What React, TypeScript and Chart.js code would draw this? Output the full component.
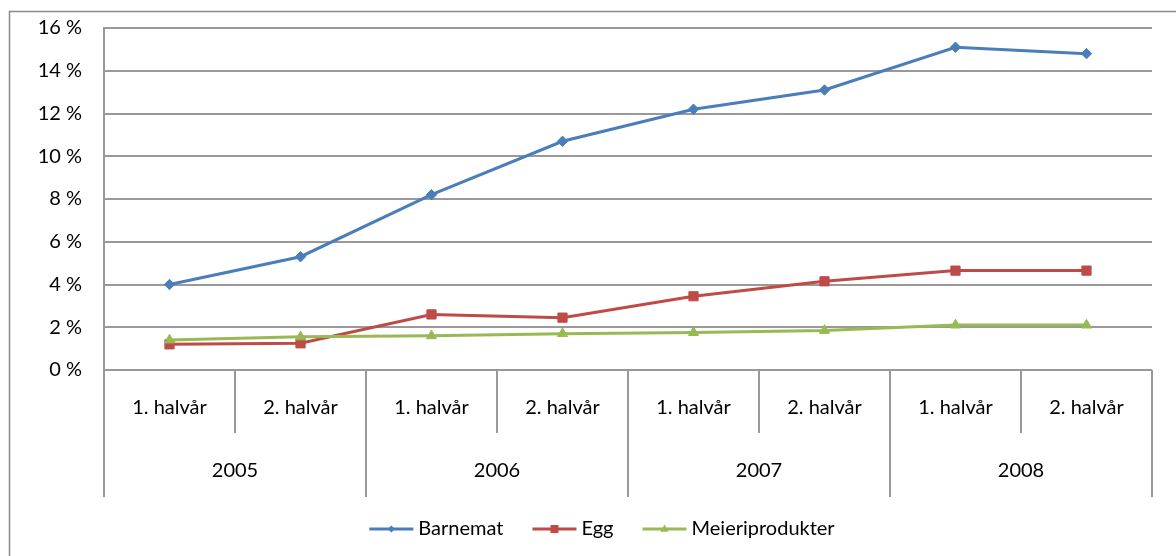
import { useEffect, useRef } from 'react';
import { Chart, registerables } from 'chart.js';

Chart.register(...registerables);

const periods = ['1. halvår', '2. halvår', '1. halvår', '2. halvår', '1. halvår', '2. halvår', '1. halvår', '2. halvår'];
const years = ['2005', '2006', '2007', '2008'];
const barnemat = [4.0, 5.3, 8.2, 10.7, 12.2, 13.1, 15.1, 14.8];
const egg = [1.2, 1.25, 2.6, 2.45, 3.45, 4.15, 4.65, 4.65];
const meieri = [1.4, 1.55, 1.6, 1.7, 1.75, 1.85, 2.1, 2.1];
const seriesNames = ['Barnemat', 'Egg', 'Meieriprodukter'];
const seriesColors = ['#4A7EBB', '#BE4B48', '#98B954'];
const seriesMarkers = ['rectRot', 'rect', 'triangle'];
const yMin = 0;
const yMax = 16;
const yStep = 2;

const FONT = 'Lato, "Open Sans", sans-serif';
const FONT_SIZE = 20;
const GRID = '#999999';

function drawMarker(ctx: CanvasRenderingContext2D, kind: string, x: number, y: number, s: number) {
  ctx.beginPath();
  if (kind === 'rectRot') {
    ctx.moveTo(x, y - s);
    ctx.lineTo(x + s, y);
    ctx.lineTo(x, y + s);
    ctx.lineTo(x - s, y);
  } else if (kind === 'rect') {
    ctx.rect(x - s, y - s, 2 * s, 2 * s);
  } else {
    ctx.moveTo(x, y - s * 1.1);
    ctx.lineTo(x + s * 1.05, y + s * 0.7);
    ctx.lineTo(x - s * 1.05, y + s * 0.7);
  }
  ctx.closePath();
  ctx.fill();
}

const multiAxisPlugin = {
  id: 'multiAxis',
  beforeDraw(chart: any) {
    const ctx = chart.ctx as CanvasRenderingContext2D;
    ctx.save();
    ctx.strokeStyle = '#8a8a8a';
    ctx.lineWidth = 1.5;
    ctx.beginPath();
    ctx.moveTo(9.5, chart.height + 5);
    ctx.lineTo(9.5, 11.5);
    ctx.lineTo(chart.width + 5, 11.5);
    ctx.stroke();
    ctx.restore();
  },
  afterDraw(chart: any) {
    const ctx = chart.ctx as CanvasRenderingContext2D;
    const xs = chart.scales.x;
    const area = chart.chartArea;
    const bottom = area.bottom;
    ctx.save();
    ctx.strokeStyle = GRID;
    ctx.lineWidth = 2;
    const n = periods.length;
    const perYear = n / years.length;
    for (let i = 0; i <= n; i++) {
      const px = Math.round(xs.getPixelForValue(i - 0.5));
      const len = i % perYear === 0 ? 127 : 63;
      ctx.beginPath();
      ctx.moveTo(px, bottom);
      ctx.lineTo(px, bottom + len);
      ctx.stroke();
    }
    ctx.fillStyle = '#000';
    ctx.font = `${FONT_SIZE}px ${FONT}`;
    ctx.textAlign = 'center';
    ctx.textBaseline = 'middle';
    for (let i = 0; i < n; i++) {
      ctx.fillText(periods[i], xs.getPixelForValue(i), bottom + 38);
    }
    for (let j = 0; j < years.length; j++) {
      ctx.fillText(years[j], xs.getPixelForValue(j * perYear + (perYear - 1) / 2), bottom + 101);
    }

    // legend
    const lineLen = 44;
    const gapAfterLine = 5;
    const itemGap = 29;
    const widths = seriesNames.map((s) => ctx.measureText(s).width);
    const total = widths.reduce((a, b) => a + b, 0) + seriesNames.length * (lineLen + gapAfterLine) + itemGap * (seriesNames.length - 1);
    let lx = 602 - total / 2;
    const ly = 529;
    ctx.textAlign = 'left';
    for (let k = 0; k < seriesNames.length; k++) {
      ctx.strokeStyle = seriesColors[k];
      ctx.fillStyle = seriesColors[k];
      ctx.lineWidth = 3;
      ctx.beginPath();
      ctx.moveTo(lx, ly);
      ctx.lineTo(lx + lineLen, ly);
      ctx.stroke();
      drawMarker(ctx, seriesMarkers[k], lx + lineLen / 2, ly, k === 0 ? 3.5 : 4);
      ctx.fillStyle = '#000';
      ctx.fillText(seriesNames[k], lx + lineLen + gapAfterLine, ly);
      lx += lineLen + gapAfterLine + widths[k] + itemGap;
    }
    ctx.restore();
  },
};

export default function App() {
  const ref = useRef<HTMLCanvasElement | null>(null);
  useEffect(() => {
    if (!ref.current) return;
    const values = [barnemat, egg, meieri];
    const radii = [5.2, 6.5, 5.8];
    const chart = new Chart(ref.current, {
      type: 'line',
      data: {
        labels: periods,
        datasets: values.map((v, k) => ({
          label: seriesNames[k],
          data: v,
          borderColor: seriesColors[k],
          backgroundColor: seriesColors[k],
          pointBackgroundColor: seriesColors[k],
          pointBorderColor: seriesColors[k],
          pointBorderWidth: 1,
          borderWidth: 3,
          pointStyle: seriesMarkers[k] as any,
          pointRadius: radii[k],
          tension: 0,
          order: 2 - k,
        })),
      },
      options: {
        animation: false,
        responsive: false,
        layout: { padding: { left: 0, top: 28, right: 24, bottom: 186 } },
        plugins: { legend: { display: false }, tooltip: { enabled: false } },
        scales: {
          x: { type: 'category', offset: true, display: false },
          y: {
            min: yMin,
            max: yMax,
            ticks: {
              stepSize: yStep,
              callback: (v: any) => `${v} %`,
              color: '#000',
              font: { family: FONT, size: FONT_SIZE },
              padding: 2,
            },
            grid: { color: GRID, lineWidth: 2, drawTicks: true, tickLength: 20, tickColor: 'rgba(0,0,0,0)' },
            border: { color: GRID, width: 2 },
            afterFit: (s: any) => {
              s.width = 104;
            },
          },
        },
      },
      plugins: [multiAxisPlugin],
    });
    return () => chart.destroy();
  }, []);
  return (
    <div style={{ position: 'fixed', left: 0, top: 0, width: 1176, height: 556, background: '#fff' }}>
      <canvas ref={ref} width={1176} height={556} style={{ display: 'block' }} />
    </div>
  );
}
